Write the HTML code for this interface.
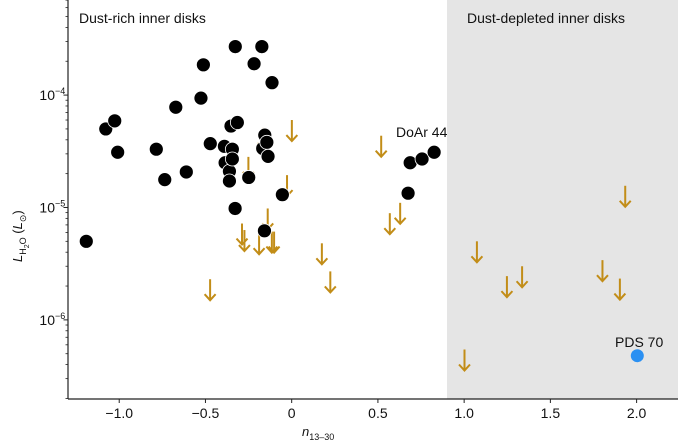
<!DOCTYPE html>
<html><head><meta charset="utf-8"><style>
html,body{margin:0;padding:0;background:#fff;}
svg{display:block;font-family:"Liberation Sans",Arial,sans-serif;}
</style></head><body>
<svg id="chart" width="678" height="444" viewBox="0 0 678 444" xmlns="http://www.w3.org/2000/svg">
<rect x="447" y="0" width="231" height="399" fill="#e5e5e5"/>
<g id="marks"></g>
<g id="axes"></g>
<text x="79" y="23" font-size="14" fill="#111">Dust-rich inner disks</text>
<text x="467" y="23" font-size="14" fill="#111">Dust-depleted inner disks</text>
<text x="396" y="137" font-size="14" fill="#111">DoAr 44</text>
<text x="615" y="347" font-size="14" fill="#111">PDS 70</text>
<text x="302" y="436" font-size="13" font-style="italic" fill="#111">n<tspan font-size="9" font-style="normal" dy="4">13–30</tspan></text>
<g transform="translate(22,230) rotate(-90)">
<text x="-32" y="0" font-size="13" fill="#111"><tspan font-style="italic">L</tspan><tspan font-size="9" dy="4">H</tspan><tspan font-size="7" dy="3">2</tspan><tspan font-size="9" dy="-3">O</tspan><tspan dy="-4"> (</tspan><tspan font-style="italic">L</tspan><tspan font-size="9" dy="4">⊙</tspan><tspan dy="-4">)</tspan></text>
</g>
</svg>
<script>
const detX = [-1.191,-1.078,-1.026,-1.009,-0.785,-0.736,-0.672,-0.611,-0.526,-0.512,-0.472,-0.390,-0.386,-0.361,-0.361,-0.344,-0.344,-0.352,-0.315,-0.327,-0.328,-0.249,-0.218,-0.173,-0.158,-0.156,-0.168,-0.144,-0.137,-0.114,-0.054,0.687,0.756,0.826,0.675];
const detY = [5.0e-6,5.0e-5,5.9e-5,3.1e-5,3.3e-5,1.77e-5,7.8e-5,2.07e-5,9.4e-5,1.86e-4,3.7e-5,3.5e-5,2.5e-5,2.1e-5,1.72e-5,3.3e-5,2.7e-5,5.3e-5,5.7e-5,2.7e-4,9.8e-6,1.85e-5,1.9e-4,2.7e-4,6.2e-6,4.4e-5,3.35e-5,3.8e-5,2.85e-5,1.29e-4,1.3e-5,2.5e-5,2.7e-5,3.1e-5,1.34e-5];
const limX = [0.001,0.519,-0.027,-0.251,-0.166,-0.139,-0.288,-0.274,-0.189,-0.115,-0.102,0.175,0.224,0.629,0.569,-0.473,1.934,1.074,1.336,1.248,1.802,1.903,1.002];
const limY = [6.0e-5,4.35e-5,1.94e-5,2.82e-5,5.1e-5,9.8e-6,7.2e-6,6.3e-6,5.9e-6,6.1e-6,6.1e-6,4.8e-6,2.7e-6,1.1e-5,8.9e-6,2.3e-6,1.56e-5,5.0e-6,3.0e-6,2.45e-6,3.4e-6,2.33e-6,5.45e-7];
const pdsX = [2.004];
const pdsY = [4.8e-7];
const xTicks = [-1.0,-0.5,0,0.5,1.0,1.5,2.0];
const xTickLabels = ["−1.0","−0.5","0","0.5","1.0","1.5","2.0"];
const yTicks = [-6,-5,-4];

const NS="http://www.w3.org/2000/svg";
const X0=68,X1=678,Y0=0,Y1=399;
const xMin=-1.297,xMax=2.24,lMin=-6.704,lMax=-3.154;
function sx(v){return X0+(v-xMin)/(xMax-xMin)*(X1-X0);}
function sy(v){return Y1-(Math.log10(v)-lMin)/(lMax-lMin)*(Y1-Y0);}
function syl(l){return Y1-(l-lMin)/(lMax-lMin)*(Y1-Y0);}
function mk(tag,attrs,parent){const e=document.createElementNS(NS,tag);for(const k in attrs)e.setAttribute(k,attrs[k]);parent.appendChild(e);return e;}
const marks=document.getElementById('marks'),axes=document.getElementById('axes');
const gold="#c28d18";
for(let i=0;i<limX.length;i++){
  const x=sx(limX[i]),y=sy(limY[i]);
  const g=mk('g',{},marks);
  
  
  mk('line',{x1:x,y1:y,x2:x,y2:y+21,stroke:gold,'stroke-width':2},g);
  mk('polyline',{points:`${x-5.5},${y+15} ${x},${y+21} ${x+5.5},${y+15}`,fill:'none',stroke:gold,'stroke-width':2},g);
}
for(let i=0;i<detX.length;i++){
  const c=mk('circle',{cx:sx(detX[i]),cy:sy(detY[i]),r:7,fill:'#000',stroke:'#fff','stroke-width':0.8},marks);
  
  
}
for(let i=0;i<pdsX.length;i++){
  const c=mk('circle',{cx:sx(pdsX[i]),cy:sy(pdsY[i]),r:6.5,fill:'#2b90f2'},marks);
  
  
}
const ax=mk('line',{x1:X0,y1:Y1,x2:X1,y2:Y1,stroke:'#222','stroke-width':1.2},axes);


const ay=mk('line',{x1:X0,y1:0,x2:X0,y2:Y1,stroke:'#222','stroke-width':1.2},axes);


for(let i=0;i<xTicks.length;i++){
  const x=sx(xTicks[i]);
  mk('line',{x1:x,y1:Y1,x2:x,y2:Y1+4,stroke:'#222','stroke-width':1},axes);
  const t=mk('text',{x:x,y:Y1+19,'font-size':14,'text-anchor':'middle',fill:'#111'},axes);
  t.textContent=xTickLabels[i];
  
  
}
for(let d=-7;d<=-3;d++){
  for(let m=2;m<=9;m++){
    const l=d+Math.log10(m);
    if(l<lMin||l>lMax)continue;
    const y=syl(l);
    mk('line',{x1:X0-2.5,y1:y,x2:X0,y2:y,stroke:'#222','stroke-width':0.8},axes);
  }
}
for(let i=0;i<yTicks.length;i++){
  const y=syl(yTicks[i]);
  mk('line',{x1:X0-4.5,y1:y,x2:X0,y2:y,stroke:'#222','stroke-width':1},axes);
  const t=mk('text',{x:X0-13,y:y+5,'font-size':14,'text-anchor':'end',fill:'#111'},axes);
  t.textContent='10';
  
  
  const s=mk('text',{x:X0-13,y:y-1,'font-size':9,fill:'#111'},axes);
  s.textContent='−'+Math.abs(yTicks[i]);
}
</script>
</body></html>
